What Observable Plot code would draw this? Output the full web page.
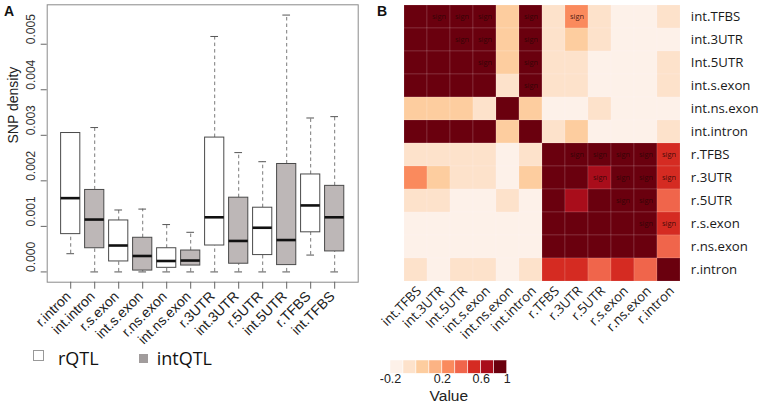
<!DOCTYPE html>
<html>
<head>
<meta charset="utf-8">
<script src="https://cdn.jsdelivr.net/npm/d3@7"></script>
<script src="https://cdn.jsdelivr.net/npm/@observablehq/plot@0.6"></script>
<style>
  html, body { margin: 0; padding: 0; background: #fff; }
  #wrap { position: relative; width: 760px; height: 407px; overflow: hidden; background: #fff; }
  #wrap > svg, #wrap > div { position: absolute; }
  .panel { font-family: "Liberation Sans", Arial, sans-serif; font-weight: bold; font-size: 14px; color: #111; }
  .leg { font-family: "Open Sans", sans-serif; font-size: 18px; line-height: 20px; color: #111; }
</style>
</head>
<body>
<div id="wrap"></div>
<script>
// ---------- Panel A: box plot data ----------
const boxCats = ["r.intron","int.intron","r.s.exon","int.s.exon","r.ns.exon","int.ns.exon","r.3UTR","int.3UTR","r.5UTR","int.5UTR","r.TFBS","int.TFBS"];
const boxGroups = ["rQTL","intQTL","rQTL","intQTL","rQTL","intQTL","rQTL","intQTL","rQTL","intQTL","rQTL","intQTL"];
const lowerWhisker = [0.00040, 0, 0, 0, 0, 0, 0, 0, 0, 0, 0.00037, 0];
const q1 =           [0.00083, 0.00052, 0.00023, 0.00003, 0.00009, 0.00014, 0.00058, 0.00018, 0.00037, 0.00015, 0.00087, 0.00045];
const medians =      [0.00162, 0.00115, 0.00058, 0.00035, 0.00024, 0.00025, 0.00120, 0.00068, 0.00097, 0.00070, 0.00146, 0.00120];
const q3 =           [0.00305, 0.00180, 0.00113, 0.00075, 0.00052, 0.00047, 0.00295, 0.00163, 0.00141, 0.00237, 0.00214, 0.00189];
const upperWhisker = [0.00306, 0.00317, 0.00136, 0.00138, 0.00104, 0.00087, 0.00517, 0.00262, 0.00242, 0.00564, 0.00338, 0.00341];
const yTicks = [0, 0.001, 0.002, 0.003, 0.004, 0.005];
const groupNames = ["rQTL", "intQTL"];
const groupColors = ["#ffffff", "#bdb7b7"];

// ---------- Panel B: correlation heatmap data ----------
const heatLabels = ["int.TFBS","int.3UTR","Int.5UTR","int.s.exon","int.ns.exon","int.intron","r.TFBS","r.3UTR","r.5UTR","r.s.exon","r.ns.exon","r.intron"];
const corrRows = [
  [1.00, 0.93, 0.91, 0.90, 0.13, 0.92, 0.07, 0.29, 0.06, 0.02, 0.01, 0.08],
  [0.93, 1.00, 0.95, 0.92, 0.12, 0.94, 0.06, 0.13, 0.07, 0.01, 0.00, 0.03],
  [0.91, 0.95, 1.00, 0.94, 0.11, 0.93, 0.08, 0.07, 0.03, 0.00, 0.02, 0.06],
  [0.90, 0.92, 0.94, 1.00, 0.08, 0.95, 0.06, 0.08, 0.02, 0.01, 0.00, 0.07],
  [0.13, 0.12, 0.11, 0.08, 1.00, 0.12, 0.01, 0.02, 0.07, 0.03, 0.01, 0.04],
  [0.92, 0.94, 0.93, 0.95, 0.12, 1.00, 0.07, 0.13, 0.03, 0.02, 0.01, 0.08],
  [0.07, 0.06, 0.08, 0.06, 0.01, 0.07, 1.00, 0.90, 0.86, 0.88, 0.87, 0.55],
  [0.29, 0.13, 0.07, 0.08, 0.02, 0.13, 0.90, 1.00, 0.72, 0.85, 0.84, 0.54],
  [0.06, 0.07, 0.03, 0.02, 0.07, 0.03, 0.86, 0.72, 1.00, 0.89, 0.88, 0.42],
  [0.02, 0.01, 0.00, 0.01, 0.03, 0.02, 0.88, 0.85, 0.89, 1.00, 0.93, 0.52],
  [0.01, 0.00, 0.02, 0.00, 0.01, 0.01, 0.87, 0.84, 0.88, 0.93, 1.00, 0.41],
  [0.08, 0.03, 0.06, 0.07, 0.04, 0.08, 0.55, 0.54, 0.42, 0.52, 0.41, 1.00]
];
const signRows = ["int.TFBS","int.TFBS","int.TFBS","int.TFBS","int.TFBS","int.3UTR","int.3UTR","int.3UTR","Int.5UTR","Int.5UTR","int.s.exon",
                  "r.TFBS","r.TFBS","r.TFBS","r.TFBS","r.TFBS","r.3UTR","r.3UTR","r.3UTR","r.3UTR","r.5UTR","r.5UTR","r.s.exon","r.s.exon"];
const signCols = ["int.3UTR","Int.5UTR","int.s.exon","int.intron","r.3UTR","Int.5UTR","int.s.exon","int.intron","int.s.exon","int.intron","int.intron",
                  "r.3UTR","r.5UTR","r.s.exon","r.ns.exon","r.intron","r.5UTR","r.s.exon","r.ns.exon","r.intron","r.s.exon","r.ns.exon","r.ns.exon","r.intron"];
const thresholds = [0.05, 0.1, 0.15, 0.2, 0.333, 0.467, 0.6, 0.8];
const palette = ["#fdf1e9","#fde2cb","#fdcd9f","#fcb384","#fa8a5d","#f0654b","#d52b22","#a90d1b","#6a000e"];
const legendTickValues = [-0.2, 0.2, 0.6, 1];
const legendTitle = "Value";

const wrap = document.getElementById("wrap");

// ---------- Panel A ----------
const boxes = boxCats.map((c, i) => ({
  cat: c, i: i + 1, grp: boxGroups[i],
  lo: lowerWhisker[i], q1: q1[i], med: medians[i], q3: q3[i], hi: upperWhisker[i]
}));
const n = boxCats.length;
const yLo = d3.min(lowerWhisker), yHi = d3.max(upperWhisker);
const yPad = (yHi - yLo) * 0.04;
const xPad = n * 0.04;
const hw = 0.4, cw = 0.16;

const plotA = Plot.plot({
  width: 370, height: 407,
  marginLeft: 46.7, marginRight: 12.3, marginTop: 4.3, marginBottom: 125.3,
  x: {type: "linear", domain: [0.5 - xPad, n + 0.5 + xPad], label: null},
  y: {domain: [yLo - yPad, yHi + yPad], label: null},
  color: {domain: groupNames, range: groupColors},
  style: {fontFamily: "'Liberation Sans', Arial, sans-serif", background: "transparent", color: "#222"},
  marks: [
    Plot.ruleX(boxes, {x: "i", y1: "q3", y2: "hi", stroke: "#7a7a7a", strokeDasharray: "3.5,3"}),
    Plot.ruleX(boxes, {x: "i", y1: "lo", y2: "q1", stroke: "#7a7a7a", strokeDasharray: "3.5,3"}),
    Plot.ruleY(boxes, {y: "hi", x1: d => d.i - cw, x2: d => d.i + cw, stroke: "#555"}),
    Plot.ruleY(boxes, {y: "lo", x1: d => d.i - cw, x2: d => d.i + cw, stroke: "#555"}),
    Plot.rect(boxes, {x1: d => d.i - hw, x2: d => d.i + hw, y1: "q1", y2: "q3", fill: "grp", stroke: "#4a4a4a", strokeWidth: 1}),
    Plot.ruleY(boxes, {y: "med", x1: d => d.i - hw, x2: d => d.i + hw, stroke: "#111", strokeWidth: 2.6}),
    Plot.frame({stroke: "#8a8a8a"}),
    Plot.axisX(boxes.map(d => d.i), {tickFormat: () => "", tickSize: 7, stroke: "#666", label: null}),
    Plot.text(boxes, {x: "i", text: "cat", frameAnchor: "bottom", rotate: -45, textAnchor: "end", dx: 1, dy: 15, fontSize: 14, fill: "#222"}),
    Plot.axisY(yTicks, {tickFormat: () => "", tickSize: 6, stroke: "#666", label: null}),
    Plot.text(yTicks, {y: d => d, text: d => d3.format(".3f")(d), frameAnchor: "left", dx: -16, rotate: -90, fontSize: 12, fill: "#333"}),
    Plot.text(["SNP density"], {frameAnchor: "left", dx: -34, rotate: -90, fontSize: 14, fill: "#222"})
  ]
});
plotA.style.left = "0px"; plotA.style.top = "0px";
wrap.appendChild(plotA);

// Panel A legend (HTML)
function addDiv(html, css, cls) {
  const d = document.createElement("div");
  if (cls) d.className = cls;
  d.innerHTML = html;
  Object.assign(d.style, css);
  wrap.appendChild(d);
  return d;
}
addDiv("", {left: "33px", top: "350px", width: "9px", height: "9px", border: "1px solid #999", background: groupColors[0]});
addDiv(groupNames[0], {left: "58px", top: "347.6px"}, "leg");
addDiv("", {left: "139px", top: "354px", width: "9px", height: "9px", background: "#a19c9c"});
addDiv(groupNames[1], {left: "156.7px", top: "347.6px"}, "leg");
addDiv("A", {left: "4px", top: "3px"}, "panel");

// ---------- Panel B ----------
const cellData = [];
heatLabels.forEach((r, ri) => heatLabels.forEach((c, ci) => cellData.push({row: r, col: c, v: corrRows[ri][ci]})));
const signData = signRows.map((r, i) => ({row: r, col: signCols[i]}));

const plotB = Plot.plot({
  width: 390, height: 407,
  marginLeft: 32.3, marginRight: 77.7, marginTop: 2.7, marginBottom: 123.7,
  x: {type: "band", domain: heatLabels, padding: 0, axis: null, label: null},
  y: {type: "band", domain: heatLabels, padding: 0, axis: "right", tickSize: 0, tickPadding: 8, label: null},
  color: {type: "threshold", domain: thresholds, range: palette},
  style: {fontFamily: "'Open Sans', sans-serif", fontSize: "13.2px", background: "transparent", color: "#1a1a1a"},
  marks: [
    Plot.cell(cellData, {x: "col", y: "row", fill: "v", stroke: "#ffffff", strokeOpacity: 0.22, strokeWidth: 0.6}),
    Plot.text(signData, {x: "col", y: "row", text: () => "sign", fontSize: 7.5, fill: "#2a0505", fillOpacity: 0.85}),
    Plot.text(heatLabels, {x: d => d, text: d => d, frameAnchor: "bottom", rotate: -45, textAnchor: "end", dx: 6, dy: 8, fontSize: 13.2, fill: "#1a1a1a"})
  ]
});
plotB.style.left = "370px"; plotB.style.top = "0px";
wrap.appendChild(plotB);
addDiv("B", {left: "377px", top: "3px"}, "panel");

// Panel B colour legend
const boundaries = [-0.2, ...thresholds, 1];
const legendBins = palette.map((c, i) => ({i, c}));
const legB = Plot.plot({
  width: 140, height: 52,
  marginLeft: 10, marginRight: 13.3, marginTop: 5, marginBottom: 33.7,
  x: {domain: [0, palette.length], axis: null},
  y: {domain: [0, 1], axis: null},
  style: {fontFamily: "'Liberation Sans', Arial, sans-serif", background: "transparent", color: "#222"},
  marks: [
    Plot.rect(legendBins, {x1: "i", x2: d => d.i + 1, y1: 0, y2: 1, fill: "c", stroke: "#fff", strokeWidth: 0.5}),
    Plot.text(legendTickValues, {x: d => boundaries.indexOf(d), text: d => String(d), frameAnchor: "bottom", dy: 9.5, fontSize: 12.5, fill: "#222"}),
    Plot.text([legendTitle], {frameAnchor: "bottom", dy: 27, fontSize: 15.5, fill: "#222"})
  ]
});
legB.style.left = "380px"; legB.style.top = "355px";
wrap.appendChild(legB);
</script>
</body>
</html>
